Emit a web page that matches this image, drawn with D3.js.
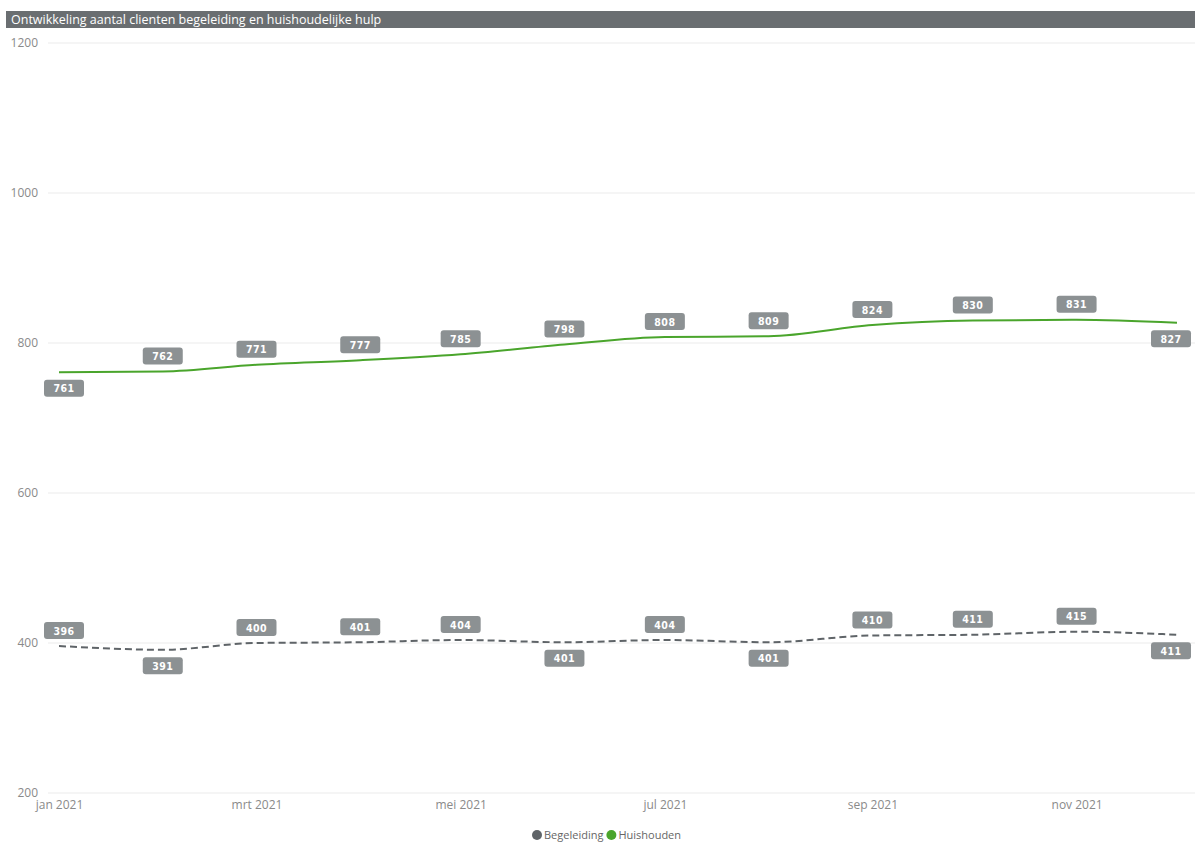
<!DOCTYPE html>
<html><head><meta charset="utf-8">
<script src="https://cdn.jsdelivr.net/npm/d3@7"></script>
<style>
html,body{margin:0;padding:0;background:#fff;}
svg{display:block;}
</style></head>
<body><svg id="c" width="1195" height="842"></svg>
<script>
const months = ["2021-01-01","2021-02-01","2021-03-01","2021-04-01","2021-05-01","2021-06-01","2021-07-01","2021-08-01","2021-09-01","2021-10-01","2021-11-01","2021-12-01"];
const huishouden = [761,762,771,777,785,798,808,809,824,830,831,827];
const begeleiding = [396,391,400,401,404,401,404,401,410,411,415,411];
const huishoudenLabelPos = ["below","above","above","above","above","above","above","above","above","above","above","below"];
const begeleidingLabelPos = ["above","below","above","above","above","below","above","below","above","above","above","below"];
const yTicks = [200,400,600,800,1000,1200];
const xTickMonths = ["2021-01-01","2021-03-01","2021-05-01","2021-07-01","2021-09-01","2021-11-01"];
const monthNames = ["jan","feb","mrt","apr","mei","jun","jul","aug","sep","okt","nov","dec"];
const title = "Ontwikkeling aantal clienten begeleiding en huishoudelijke hulp";
const seriesNames = ["Begeleiding","Huishouden"];

const parse = d3.utcParse("%Y-%m-%d");
const dates = months.map(parse);
const svg = d3.select("#c");
const W = 1195, H = 842;

// title bar
svg.append("rect").attr("x",6).attr("y",11).attr("width",W-6).attr("height",17).attr("fill","#6a6e71");
svg.append("text").attr("x",11).attr("y",24).attr("fill","#fff")
  .attr("font-family","Open Sans, sans-serif").attr("font-size",12.5).text(title);

const x = d3.scaleUtc().domain([dates[0], dates[dates.length-1]]).range([59,1177]);
const y = d3.scaleLinear().domain([200,1200]).range([793,43]);

// grid
const g = svg.append("g");
g.selectAll("line.grid").data(yTicks).join("line")
  .attr("x1",48).attr("x2",W).attr("y1",d=>y(d)).attr("y2",d=>y(d))
  .attr("stroke","#ebebeb").attr("stroke-width",1);

// y axis labels
const yAxis = d3.axisLeft(y).tickValues(yTicks).tickSize(0).tickPadding(0).tickFormat(d3.format("d"));
const ya = svg.append("g").attr("transform","translate(38,0)").call(yAxis);
ya.select(".domain").remove();
ya.selectAll("text").attr("font-family","Open Sans, sans-serif").attr("font-size",12).attr("fill","#8a8a8a");

// x axis labels
const xAxis = d3.axisBottom(x).tickValues(xTickMonths.map(parse)).tickSize(0).tickPadding(0)
  .tickFormat(d=>monthNames[d.getUTCMonth()]+" "+d.getUTCFullYear());
const xa = svg.append("g").attr("transform","translate(0,800)").call(xAxis);
xa.select(".domain").remove();
xa.selectAll("text").attr("font-family","Open Sans, sans-serif").attr("font-size",12).attr("fill","#8a8a8a");

// lines
const line = d3.line().x((d,i)=>x(dates[i])).y(d=>y(d)).curve(d3.curveMonotoneX);
svg.append("path").attr("d",line(huishouden)).attr("fill","none").attr("stroke","#4aa52c").attr("stroke-width",2);
svg.append("path").attr("d",line(begeleiding)).attr("fill","none").attr("stroke","#5f6468").attr("stroke-width",2).attr("stroke-dasharray","7,4");

// data labels
function labels(vals, pos){
  const lg = svg.append("g");
  vals.forEach((v,i)=>{
    let cx = x(dates[i]);
    const cy = y(v) + (pos[i]==="above" ? -15.5 : 16);
    const w = 40, h = 17;
    cx = Math.max(cx, 44 + w/2);
    cx = Math.min(cx, 1191 - w/2);
    lg.append("rect").attr("x",cx-w/2).attr("y",cy-h/2).attr("width",w).attr("height",h)
      .attr("rx",3).attr("fill","#8c9193");
    lg.append("text").attr("x",cx).attr("y",cy+4).attr("text-anchor","middle")
      .attr("font-family","DejaVu Sans Condensed, sans-serif").attr("font-weight","bold")
      .attr("font-size",10.5).attr("fill","#fff").attr("letter-spacing",0.5).text(v);
  });
}
labels(huishouden, huishoudenLabelPos);
labels(begeleiding, begeleidingLabelPos);

// legend
const leg = svg.append("g").attr("font-family","Open Sans, sans-serif").attr("font-size",11);
const colors = ["#5f6468","#4aa52c"];
let lx = 532;
seriesNames.forEach((n,i)=>{
  leg.append("circle").attr("cx",lx+5).attr("cy",835).attr("r",5).attr("fill",colors[i]);
  const t = leg.append("text").attr("x",lx+12).attr("y",839).attr("fill","#666").text(n);
  lx += 12 + t.node().getComputedTextLength() + 3;
});
</script></body></html>
